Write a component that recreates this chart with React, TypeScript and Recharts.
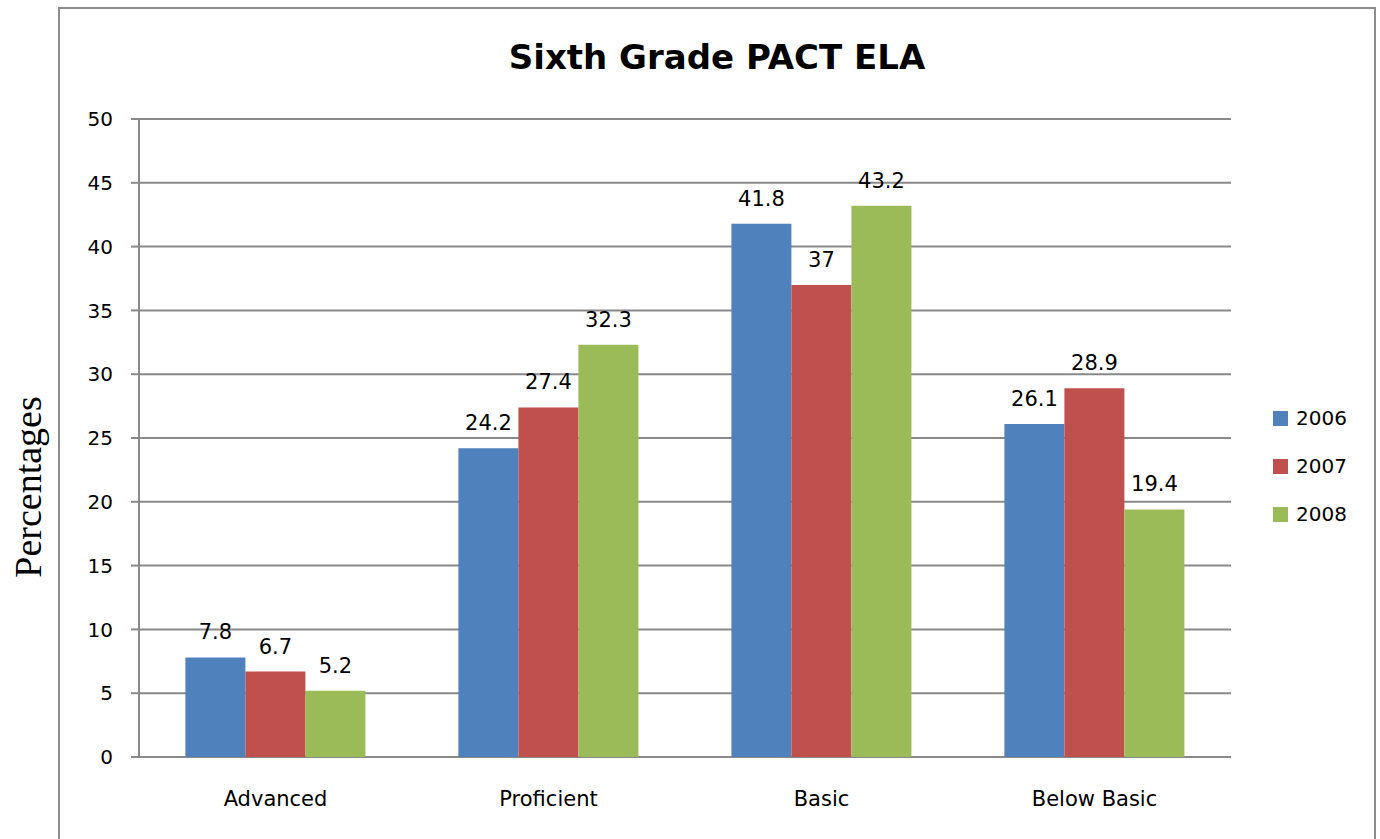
import { Bar, BarChart, CartesianGrid, LabelList, Legend, XAxis, YAxis } from 'recharts'

const categories = ['Advanced', 'Proficient', 'Basic', 'Below Basic']
const years = ['2006', '2007', '2008']
const values2006 = [7.8, 24.2, 41.8, 26.1]
const values2007 = [6.7, 27.4, 37, 28.9]
const values2008 = [5.2, 32.3, 43.2, 19.4]
const yTicks = [0, 5, 10, 15, 20, 25, 30, 35, 40, 45, 50]
const edgeTicks = [0, 1, 2, 3, 4]

const COLORS = ['#4F81BD', '#C0504D', '#9BBB59']
const GRID = '#898989'
const FONT = "'DejaVu Sans', Verdana, sans-serif"

const data = categories.map((name, i) => ({
    name,
    [years[0]]: values2006[i],
    [years[1]]: values2007[i],
    [years[2]]: values2008[i],
}))

const LegendBox = () => (
    <div style={{ fontFamily: FONT, fontSize: 20, color: '#000' }}>
        {years.map((y, i) => (
            <div key={y} style={{ display: 'flex', alignItems: 'center', height: 48 }}>
                <span style={{ width: 15, height: 15, background: COLORS[i], marginRight: 8 }} />
                <span>{y}</span>
            </div>
        ))}
    </div>
)

export default function App() {
    return (
        <div
            style={{
                position: 'absolute',
                left: 0,
                top: 0,
                width: 1380,
                height: 839,
                overflow: 'hidden',
                background: '#fff',
            }}
        >
            <div
                style={{
                    position: 'absolute',
                    left: 58,
                    top: 7,
                    width: 1314,
                    height: 900,
                    border: '2px solid #8c8c8c',
                }}
            />
            <div
                style={{
                    position: 'absolute',
                    left: 58,
                    width: 1318,
                    top: 37,
                    lineHeight: 'normal',
                    textAlign: 'center',
                    fontFamily: FONT,
                    fontWeight: 'bold',
                    fontSize: 34,
                    color: '#000',
                }}
            >
                Sixth Grade PACT ELA
            </div>
            <div
                style={{
                    position: 'absolute',
                    left: 28,
                    top: 487,
                    transform: 'translate(-50%, -50%) rotate(-90deg)',
                    fontFamily: "'Liberation Serif', 'Times New Roman', serif",
                    fontSize: 38,
                    whiteSpace: 'nowrap',
                    color: '#000',
                }}
            >
                Percentages
            </div>
            <div style={{ position: 'absolute', left: 0, top: 0 }}>
                <BarChart
                    width={1380}
                    height={839}
                    data={data}
                    margin={{ top: 119, right: 149, bottom: 0, left: 79 }}
                    barCategoryGap="17%"
                    barGap={0}
                >
                    <CartesianGrid vertical={false} stroke={GRID} strokeWidth={2} />
                    <XAxis
                        xAxisId="edges"
                        type="number"
                        domain={[0, 4]}
                        ticks={edgeTicks}
                        tick={false}
                        tickSize={9}
                        tickLine={{ stroke: GRID, strokeWidth: 2 }}
                        axisLine={{ stroke: GRID, strokeWidth: 2 }}
                        height={0}
                    />
                    <XAxis
                        dataKey="name"
                        tickLine={false}
                        axisLine={false}
                        tickSize={0}
                        tickMargin={34}
                        height={82}
                        tick={{ fill: '#000', fontSize: 21, fontFamily: FONT }}
                    />
                    <YAxis
                        type="number"
                        domain={[0, 50]}
                        ticks={yTicks}
                        width={60}
                        tickSize={8}
                        tickMargin={18}
                        interval={0}
                        tickLine={{ stroke: GRID, strokeWidth: 2 }}
                        axisLine={{ stroke: GRID, strokeWidth: 2 }}
                        tick={{ fill: '#000', fontSize: 20, fontFamily: FONT }}
                    />
                    <Legend
                        layout="vertical"
                        align="center"
                        verticalAlign="middle"
                        wrapperStyle={{ left: 1273, top: 394, width: 100 }}
                        content={() => <LegendBox />}
                    />
                    {years.map((y, i) => (
                        <Bar key={y} dataKey={y} fill={COLORS[i]} isAnimationActive={false}>
                            <LabelList
                                dataKey={y}
                                position="top"
                                offset={18}
                                style={{ fill: '#000', fontSize: 21, fontFamily: FONT }}
                            />
                        </Bar>
                    ))}
                </BarChart>
            </div>
        </div>
    )
}
